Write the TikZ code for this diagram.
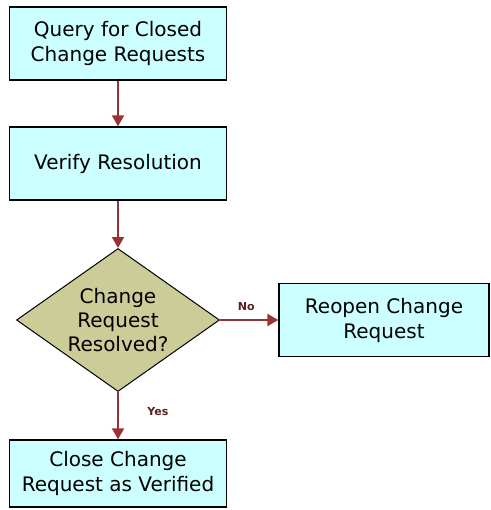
\documentclass[tikz,border=0pt]{standalone}
\usepackage{fontspec}
\setmainfont{DejaVu Sans}
\usepackage{xcolor}
\usetikzlibrary{shapes.geometric,arrows.meta}

\definecolor{stepfill}{HTML}{CCFFFF}
\definecolor{decisionfill}{HTML}{CCCC99}
\definecolor{flowred}{HTML}{993333}

\tikzset{
    stepbox/.style={draw=black, line width=1.3pt, fill=stepfill, minimum width=217pt,
        minimum height=73pt, align=center, font=\fontsize{20}{25}\selectfont},
    decision/.style={draw=black, line width=1pt, fill=decisionfill, diamond,
        minimum width=203pt, minimum height=143pt, inner sep=0pt},
    flow/.style={draw=flowred, line width=2pt, -{Triangle[length=11pt,width=12pt]}},
    answer/.style={font=\fontsize{11}{12}\selectfont\bfseries, text=flowred!60!black}
}

\begin{document}
\begin{tikzpicture}[x=1pt,y=-1pt]
    \useasboundingbox (0,0) rectangle (490,510);
    % Main line of steps
    \node[stepbox] (query) at (118,43.5) {Query for Closed\\Change Requests};
    \node[stepbox] (verify) at (118,163.5) {Verify Resolution};
    % Decision diamond with its text
    \node[decision] (resolved) at (118,320) {};
    \node[align=center, font=\fontsize{20}{24}\selectfont] (resolvedtext) at (resolved) {Change\\Request\\Resolved?};
    % Outcomes
    \node[stepbox, minimum width=210pt] (reopen) at (384,320) {Reopen Change\\Request};
    \node[stepbox, minimum height=67pt] (close) at (118,473.5) {Close Change\\Request as Verified};

    \draw[flow] (query) -- (verify);
    \draw[flow] (verify) -- (resolved.north);
    \draw[flow] (resolved.east) -- node[answer, above=5pt, pos=0.45] {No} (reopen.west);
    \draw[flow] (resolved.south) -- node[answer, right=25pt, pos=0.42] {Yes} (close.north);
\end{tikzpicture}
\end{document}
